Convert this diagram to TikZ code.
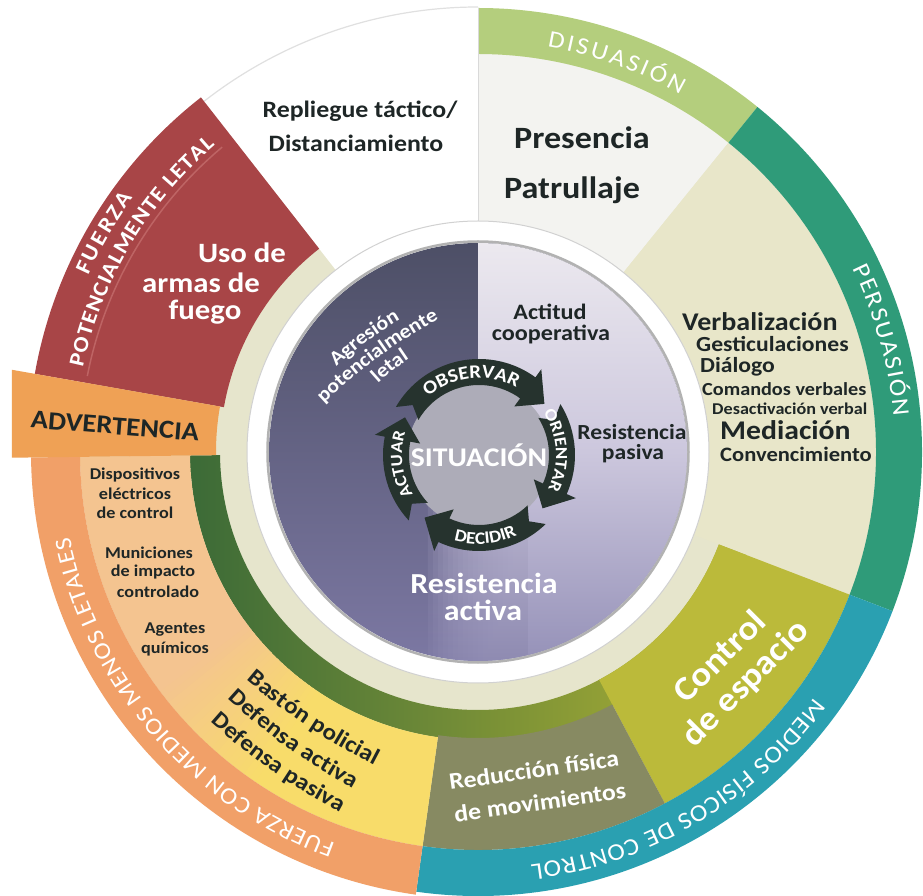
\documentclass[tikz,border=0pt]{standalone}
\usepackage{fontspec}
\setmainfont{Carlito}[FakeStretch=1.1]
\usetikzlibrary{decorations.text}
\newcommand{\fsz}[1]{\fontsize{#1}{#1}\selectfont}
\newcommand{\ringsec}[5]{\fill[#1] (#2:#4) arc[start angle=#2, end angle=#3, radius=#4] -- (#3:#5) arc[start angle=#3, end angle=#2, radius=#5] -- cycle;}
\newcommand{\cycarrow}[2]{\fill[cycc] (#1:96) arc[start angle=#1, end angle={#2+16}, radius=96] -- ({#2+16}:106) -- (#2:83) -- ({#2+16}:60) -- ({#2+16}:70) arc[start angle={#2+16}, end angle=#1, radius=70] -- ({#1-7}:83) -- cycle;}
\definecolor{creamc}{HTML}{E6E5CC}
\definecolor{beige}{HTML}{E8E6C9}
\definecolor{presc}{HTML}{F3F3F0}
\definecolor{disc}{HTML}{B4CE7D}
\definecolor{persc}{HTML}{2F9B79}
\definecolor{medc}{HTML}{2AA0B1}
\definecolor{orac}{HTML}{F1A068}
\definecolor{advc}{HTML}{EFA155}
\definecolor{redc}{HTML}{A84547}
\definecolor{redl}{HTML}{BE6464}
\definecolor{peac}{HTML}{F4C490}
\definecolor{yelc}{HTML}{F8DC6A}
\definecolor{gA}{HTML}{3B6A37}
\definecolor{gB}{HTML}{74922E}
\definecolor{gC}{HTML}{B3B436}
\definecolor{ctrc}{HTML}{BBBA3A}
\definecolor{redu}{HTML}{878A62}
\definecolor{dA}{HTML}{4D4F66}
\definecolor{dB}{HTML}{626083}
\definecolor{pB}{HTML}{7C78A3}
\definecolor{pR}{HTML}{9591B8}
\definecolor{lA}{HTML}{ECE9EF}
\definecolor{lB}{HTML}{CCC7DD}
\definecolor{cycc}{HTML}{26332E}
\definecolor{cycin}{HTML}{ADACB8}
\definecolor{txt}{HTML}{1E2626}
\begin{document}
\begin{tikzpicture}[x=1pt,y=1pt,
  dk/.style={inner sep=0pt, text=txt},
  wt/.style={inner sep=0pt, text=white}]
\useasboundingbox (-478,-444) rectangle (445,452);
\fill[white] (-478,-444) rectangle (445,452);

% base cream ring
\fill[creamc] (0,0) circle (398);
% Repliegue
\ringsec{white}{90}{128}{231}{445}
\draw[black!12, line width=1.2pt] (90:445) arc[start angle=90,end angle=128,radius=445];
% Presencia / Disuasion
\ringsec{presc}{51}{90}{231}{398}
\ringsec{disc}{51}{90}{398}{444}
% Persuasion
\ringsec{beige}{-21}{51}{231}{398}
\ringsec{persc}{-21}{51}{398}{444}
% green band
\begin{scope}
\clip (180.7:258) arc[start angle=180.7,end angle=339,radius=258] -- (339:288) arc[start angle=339,end angle=180.7,radius=288] -- cycle;
\shade[left color=gA, middle color=gB, right color=gC] (-290,-290) rectangle (290,10);
\end{scope}
% Control de espacio, Reduccion
\ringsec{ctrc}{-62}{-21}{258}{398}
\ringsec{redu}{-98}{-62}{286}{398}
% peach / yellow sector
\ringsec{peac}{180.7}{216.5}{288}{398}
\foreach \i in {0,...,19}{
  \pgfmathsetmacro\aa{216+\i}
  \pgfmathtruncatemacro\pp{5*\i}
  \fill[yelc!\pp!peac] (\aa:288) arc[start angle=\aa, end angle=\aa+1.3, radius=288] -- ({\aa+1.3}:398) arc[start angle=\aa+1.3, end angle=\aa, radius=398] -- cycle;
}
\ringsec{yelc}{236}{262}{288}{398}
% outer bands
\ringsec{medc}{-98}{-21}{398}{444}
\ringsec{orac}{180.7}{262}{398}{447}
% red sector
\ringsec{redc}{128}{170}{258}{450}
\draw[redl, line width=1.5pt] (130:398) arc[start angle=130,end angle=169,radius=398];
% ADVERTENCIA bar
\fill[advc] (170:262) -- (-466,82.2) -- (-466,-5.7) -- (180.7:262) arc[start angle=180.7,end angle=170,radius=262] -- cycle;
% divider
\draw[black!15, line width=0.8pt] (90:231) -- (90:444);

% white ring
\fill[white] (0,0) circle (231);
\draw[black!18, line width=1pt] (0,0) circle (231);
% inner disk
\begin{scope}
\clip (0,0) circle (209);
\shade[top color=dA, middle color=dB, bottom color=pB] (-210,-210) rectangle (210,210);
\shade[top color=lA, bottom color=lB] (0,0) rectangle (210,210);
\foreach \k in {0,...,19}{
  \shade[top color=lB, bottom color=pR, opacity=0.14] ({-50+5*\k},-210) rectangle (210,0);
}
\shade[top color=lB, bottom color=pR] (50,-210) rectangle (210,0);
\end{scope}
\draw[black!30, line width=2.5pt] (0,0) circle (210.5);

% cycle
\begin{scope}[shift={(1,-3)}]
\fill[cycin] (0,0) circle (72);
\cycarrow{150}{38}
\cycarrow{32}{-40}
\cycarrow{-46}{-131}
\cycarrow{-137}{-207}
\path[decorate,decoration={text along path,text={|\color{white}\bfseries\fsz{19}|OBSERVAR},text align=center}] (160:77) arc[start angle=160,end angle=32,radius=77];
\path[decorate,decoration={text along path,text={|\color{white}\bfseries\fsz{17}|ORIENTAR},text align=center}] (40:77) arc[start angle=40,end angle=-33,radius=77];
\path[decorate,decoration={text along path,text={|\color{white}\bfseries\fsz{17.5}|DECIDIR},text align=center}] (-125:89) arc[start angle=-125,end angle=-46,radius=89];
\path[decorate,decoration={text along path,text={|\color{white}\bfseries\fsz{17}|ACTUAR},text align=center}] (225:77) arc[start angle=225,end angle=149,radius=77];
\node[wt, font=\bfseries\fsz{27}] (sit) at (0,0) {SITUACIÓN};
\end{scope}

% band labels
\path[decorate,decoration={text along path,text={|\color{white}\fsz{24}|DISUASIÓN},text align={fit to path}}] (80.3:411) arc[start angle=80.3,end angle=60.5,radius=411];
\path[decorate,decoration={text along path,text={|\color{white}\fsz{24}|PERSUASIÓN},text align={fit to path}}] (26.1:417) arc[start angle=26.1,end angle=4.9,radius=417];
\path[decorate,decoration={text along path,text={|\color{white}\fsz{24}|MEDIOS FÍSICOS DE CONTROL},text align={fit to path}}] (-36.1:416) arc[start angle=-36.1,end angle=-82.7,radius=416];
\path[decorate,decoration={text along path,text={|\color{white}\fsz{23.5}|FUERZA CON MEDIOS MENOS LETALES},text align={fit to path}}] (-110:417) arc[start angle=-110,end angle=-168.2,radius=417];
\path[decorate,decoration={text along path,text={|\color{white}\bfseries\fsz{21.5}|POTENCIALMENTE LETAL},text align={fit to path}}] (167.9:404) arc[start angle=167.9,end angle=130.6,radius=404];
\path[decorate,decoration={text along path,text={|\color{white}\bfseries\fsz{22}|FUERZA},text align={fit to path}}] (155.6:428) arc[start angle=155.6,end angle=143.6,radius=428];

% curved inner labels
\path[decorate,decoration={text along path,text={|\color{txt}\bfseries\fsz{23}|Bastón policial},text align=center,raise=-5pt}] (-255,-201) to[bend right=8] (-70,-325);
\path[decorate,decoration={text along path,text={|\color{txt}\bfseries\fsz{23}|Defensa activa},text align=center,raise=-5pt}] (-268,-223.5) to[bend right=8] (-98,-345.5);
\path[decorate,decoration={text along path,text={|\color{txt}\bfseries\fsz{23}|Defensa pasiva},text align=center,raise=-5pt}] (-285.4,-246.7) to[bend right=8] (-110.6,-369.3);
\path[decorate,decoration={text along path,text={|\color{white}\bfseries\fsz{20}|Agresión},text align=center,raise=-5pt}] (-160.7,73.6) to[bend left=8] (-61.3,147.4);
\path[decorate,decoration={text along path,text={|\color{white}\bfseries\fsz{20}|potencialmente},text align=center,raise=-5pt}] (-173.9,36.9) to[bend left=8] (-22.1,148.1);
\path[decorate,decoration={text along path,text={|\color{white}\bfseries\fsz{20}|letal},text align=center,raise=-5pt}] (-123.3,53.1) to[bend left=8] (-47.7,111.9);

% straight labels
\node[dk, font=\bfseries\fsz{23.5}] (rep1) at (-118,341) {Repliegue táctico/};
\node[dk, font=\bfseries\fsz{23.5}] (rep2) at (-122,309) {Distanciamiento};
\node[dk, font=\bfseries\fsz{31}] (pres) at (104,314) {Presencia};
\node[dk, font=\bfseries\fsz{31}] (patr) at (94,262) {Patrullaje};
\node[dk, anchor=west, font=\bfseries\fsz{25.5}] (verb) at (204,130) {Verbalización};
\node[dk, anchor=west, font=\bfseries\fsz{21.5}] (gest) at (218,108) {Gesticulaciones};
\node[dk, anchor=west, font=\bfseries\fsz{21.5}] (dial) at (222,85) {Diálogo};
\node[dk, anchor=west, font=\bfseries\fsz{18.4}] (coma) at (224,63) {Comandos verbales};
\node[dk, anchor=west, font=\bfseries\fsz{16.5}] (desa) at (234,43) {Desactivación verbal};
\node[dk, anchor=west, font=\bfseries\fsz{27}] (medi) at (242,22) {Mediación};
\node[dk, anchor=west, font=\bfseries\fsz{20.5}] (conv) at (242,-2) {Convencimiento};
\node[wt, font=\bfseries\fsz{28}] (uso1) at (-236,199) {Uso de};
\node[wt, font=\bfseries\fsz{28}] (uso2) at (-277,169) {armas de};
\node[wt, font=\bfseries\fsz{28}] (uso3) at (-273,140) {fuego};
\node[dk, rotate=-4.5, font=\bfseries\fsz{26}] (adv) at (-363,26) {ADVERTENCIA};
\node[dk, font=\bfseries\fsz{16.5}] (dis1) at (-343,-23) {Dispositivos};
\node[dk, font=\bfseries\fsz{16.5}] (dis2) at (-343,-42) {eléctricos};
\node[dk, font=\bfseries\fsz{16.5}] (dis3) at (-343,-61) {de control};
\node[dk, font=\bfseries\fsz{16.5}] (mun1) at (-329,-101) {Municiones};
\node[dk, font=\bfseries\fsz{16.5}] (mun2) at (-325,-120) {de impacto};
\node[dk, font=\bfseries\fsz{16.5}] (mun3) at (-320,-140) {controlado};
\node[dk, font=\bfseries\fsz{16.5}] (age1) at (-303,-178) {Agentes};
\node[dk, font=\bfseries\fsz{16.5}] (age2) at (-303,-197) {químicos};
\node[dk, font=\bfseries\fsz{22}] (act1) at (72,140) {Actitud};
\node[dk, font=\bfseries\fsz{22}] (act2) at (73,118) {cooperativa};
\node[dk, font=\bfseries\fsz{21.5}] (rp1) at (154,20) {Resistencia};
\node[dk, font=\bfseries\fsz{21.5}] (rp2) at (155,-2) {pasiva};
\node[wt, font=\bfseries\fsz{29}] (ra1) at (6,-131) {Resistencia};
\node[wt, font=\bfseries\fsz{29}] (ra2) at (5,-158) {activa};
\node[wt, rotate=8, font=\bfseries\fsz{23.5}] (red1) at (56,-318) {Reducción física};
\node[wt, rotate=8, font=\bfseries\fsz{23.5}] (red2) at (62,-350) {de movimientos};
\node[wt, rotate=45, font=\bfseries\fsz{34}] (ctl1) at (241,-204) {Control};
\node[wt, rotate=45, font=\bfseries\fsz{34}] (ctl2) at (268,-232) {de espacio};
\end{tikzpicture}
\end{document}
